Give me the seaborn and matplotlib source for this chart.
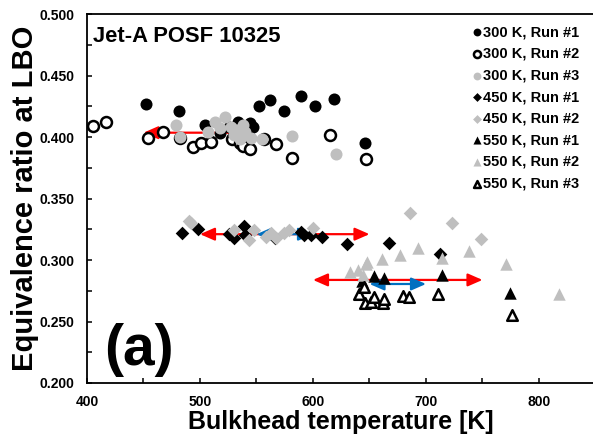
import pandas as pd
import matplotlib
matplotlib.use('Agg')
import matplotlib.pyplot as plt
from matplotlib.ticker import MultipleLocator, FormatStrFormatter
import seaborn as sns

# 300 K inlet
t300_r1_x = [452, 481, 504, 518, 526, 534, 544, 547, 552, 562, 574, 589, 602, 619, 646]
t300_r1_y = [0.427, 0.421, 0.410, 0.403, 0.408, 0.412, 0.411, 0.408, 0.425, 0.430, 0.421, 0.433, 0.425, 0.431, 0.395]
t300_r2_x = [405, 417, 454, 467, 482, 494, 501, 510, 528, 535, 538, 544, 557, 567, 581, 615, 647]
t300_r2_y = [0.409, 0.412, 0.399, 0.404, 0.399, 0.392, 0.395, 0.396, 0.398, 0.395, 0.393, 0.390, 0.398, 0.394, 0.383, 0.402, 0.382]
t300_r3_x = [479, 482, 507, 513, 518, 522, 527, 530, 533, 535, 538, 540, 545, 555, 581, 620]
t300_r3_y = [0.410, 0.400, 0.404, 0.412, 0.407, 0.416, 0.408, 0.402, 0.406, 0.398, 0.410, 0.404, 0.399, 0.398, 0.401, 0.386]
# 450 K inlet
t450_r1_x = [484, 498, 526, 530, 539, 540, 566, 589, 592, 598, 608, 630, 667, 712]
t450_r1_y = [0.322, 0.325, 0.321, 0.318, 0.328, 0.320, 0.318, 0.323, 0.320, 0.320, 0.319, 0.313, 0.314, 0.305]
t450_r2_x = [490, 492, 530, 543, 548, 558, 563, 567, 574, 579, 600, 686, 723, 749]
t450_r2_y = [0.332, 0.330, 0.324, 0.316, 0.324, 0.319, 0.322, 0.318, 0.322, 0.324, 0.326, 0.338, 0.330, 0.317]
# 550 K inlet
t550_r1_x = [643, 654, 663, 714, 774]
t550_r1_y = [0.283, 0.287, 0.285, 0.288, 0.273]
t550_r2_x = [633, 640, 644, 647, 648, 661, 677, 693, 714, 738, 771, 818]
t550_r2_y = [0.290, 0.292, 0.288, 0.297, 0.298, 0.301, 0.304, 0.310, 0.302, 0.307, 0.297, 0.272]
t550_r3_x = [641, 645, 646, 651, 654, 662, 663, 680, 685, 711, 776]
t550_r3_y = [0.272, 0.278, 0.265, 0.266, 0.270, 0.265, 0.268, 0.271, 0.270, 0.272, 0.255]

# range arrows (red) and spread arrows (blue)
arrow_y = [0.4035, 0.321, 0.2838]
red_lo = [450, 500, 600]
red_hi = [550, 650, 750]
blue_y = [0.4035, 0.321, 0.2805]
blue_lo = [530, 550, 650]
blue_hi = [550, 600, 700]

GRAY = '#BFBFBF'

series = [
    ('300 K, Run #1', t300_r1_x, t300_r1_y, 'o', 'black', 'black', 75),
    ('300 K, Run #2', t300_r2_x, t300_r2_y, 'o', 'white', 'black', 62),
    ('300 K, Run #3', t300_r3_x, t300_r3_y, 'o', GRAY, GRAY, 75),
    ('450 K, Run #1', t450_r1_x, t450_r1_y, 'D', 'black', 'black', 48),
    ('450 K, Run #2', t450_r2_x, t450_r2_y, 'D', GRAY, GRAY, 48),
    ('550 K, Run #1', t550_r1_x, t550_r1_y, '^', 'black', 'black', 80),
    ('550 K, Run #2', t550_r2_x, t550_r2_y, '^', GRAY, GRAY, 80),
    ('550 K, Run #3', t550_r3_x, t550_r3_y, '^', 'white', 'black', 58),
]

sns.set_style('white')
plt.rcParams['font.family'] = ['Liberation Sans', 'DejaVu Sans']
plt.rcParams['font.weight'] = 'bold'
plt.rcParams['text.color'] = 'black'
plt.rcParams['axes.labelcolor'] = 'black'
plt.rcParams['xtick.color'] = 'black'
plt.rcParams['ytick.color'] = 'black'

fig = plt.figure(figsize=(5.93, 4.46), dpi=100)
ax = fig.add_axes([87 / 593, 63 / 446, 508.5 / 593, 369 / 446])

for i in range(len(arrow_y)):
    ax.annotate('', xy=(red_lo[i], arrow_y[i]), xytext=(red_hi[i], arrow_y[i]),
                arrowprops=dict(arrowstyle='<|-|>,head_length=0.8,head_width=0.35', color='red',
                                lw=1.6, shrinkA=0, shrinkB=0, mutation_scale=11), zorder=1)
    ax.annotate('', xy=(blue_lo[i], blue_y[i]), xytext=(blue_hi[i], blue_y[i]),
                arrowprops=dict(arrowstyle='<|-|>,head_length=0.8,head_width=0.35', color='#0070C0',
                                lw=1.6, shrinkA=0, shrinkB=0, mutation_scale=11), zorder=1)

for name, xs, ys, mk, fc, ec, size in series:
    df = pd.DataFrame({'x': xs, 'y': ys})
    lw = 1.8 if fc == 'white' else 0
    sns.scatterplot(data=df, x='x', y='y', ax=ax, marker=mk, s=size, color=fc,
                    edgecolor=ec, linewidth=lw, label=name, zorder=3)

ax.set_xlim(400, 850)
ax.set_ylim(0.2, 0.5)
ax.xaxis.set_major_locator(MultipleLocator(100))
ax.xaxis.set_minor_locator(MultipleLocator(50))
ax.yaxis.set_major_locator(MultipleLocator(0.05))
ax.yaxis.set_minor_locator(MultipleLocator(0.025))
ax.yaxis.set_major_formatter(FormatStrFormatter('%.3f'))
ax.tick_params(which='both', direction='in', length=3.5, width=1.1, color='black',
               labelsize=10, pad=9, left=True, bottom=True)
for lab in ax.get_xticklabels() + ax.get_yticklabels():
    lab.set_fontweight('bold')

for sp in ['left', 'bottom', 'top']:
    ax.spines[sp].set_color('black')
    ax.spines[sp].set_linewidth(1.3)
ax.spines['right'].set_visible(False)

ax.set_xlabel('Bulkhead temperature [K]', fontsize=18, fontweight='bold', labelpad=0)
ax.set_ylabel('Equivalence ratio at LBO', fontsize=21, fontweight='bold', labelpad=0)

ax.text(0.012, 0.94, 'Jet-A POSF 10325', transform=ax.transAxes, fontsize=15.8,
        fontweight='bold', ha='left', va='center')
ax.text(0.034, 0.09, '(a)', transform=ax.transAxes, fontsize=41,
        fontweight='bold', ha='left', va='center')

leg = ax.legend(loc='upper right', frameon=False, fontsize=10.5,
                handlelength=0.7, handletextpad=0.1, labelspacing=0.52,
                borderpad=0, markerscale=0.65)
leg.set_bbox_to_anchor((587 / 593, 1 - 18 / 446), transform=fig.transFigure)
for t in leg.get_texts():
    t.set_fontweight('bold')

fig.savefig('out.png', dpi=100)
